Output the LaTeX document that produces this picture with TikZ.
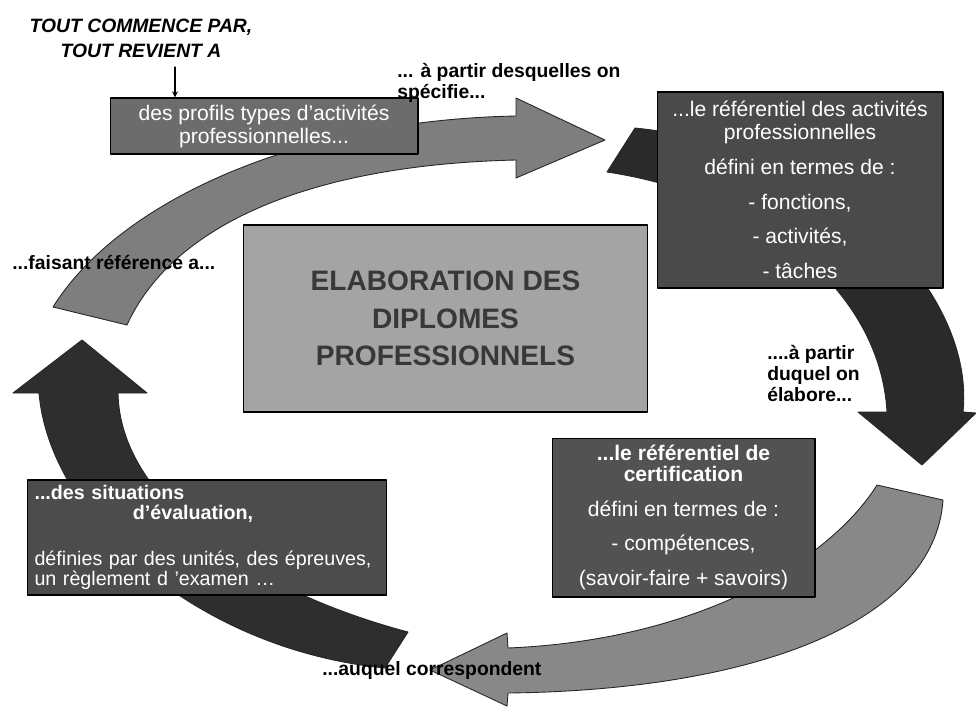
\documentclass[tikz,border=0pt]{standalone}
\usepackage{fontspec}
\setmainfont{Liberation Sans}
\definecolor{arrowA}{HTML}{7E7E7E}
\definecolor{arrowB}{HTML}{2A2A2A}
\definecolor{arrowC}{HTML}{888888}
\definecolor{arrowD}{HTML}{2E2E2E}
\definecolor{boxA}{HTML}{6C6C6C}
\definecolor{boxB}{HTML}{4A4A4A}
\definecolor{boxC}{HTML}{525252}
\definecolor{boxD}{HTML}{4C4C4C}
\definecolor{centre}{HTML}{A4A4A4}
\tikzset{
  box/.style={draw=black,line width=0.6pt,text=white,align=center,inner sep=0pt,
    font=\fontsize{12}{13}\selectfont},
  band/.style={draw=black!85,line width=0.5pt},
  lbl/.style={inner sep=0pt,align=left,font=\bfseries\fontsize{11}{12}\selectfont},
}
\begin{document}
\begin{tikzpicture}[>=stealth,line join=round,line cap=round,x=0.02cm,y=-0.02cm]
	\fill[white] (0,0) rectangle (976,707);
	\useasboundingbox (0,0) rectangle (976,707);
	% the four bent arrows
	\filldraw[band,fill=arrowA] (53,307) .. controls (120,200) and (300,120) .. (516,116) -- (516,98) -- (605,140) -- (516,178) -- (516,160) .. controls (300,165) and (170,230) .. (127,325) -- cycle;
	\filldraw[band,fill=arrowB] (635,128) -- (607,172) .. controls (760,195) and (880,290) .. (887,412) -- (858,412) -- (922,465) -- (976,413) -- (963,412) .. controls (975,300) and (850,150) .. (635,128) -- cycle;
	\filldraw[band,fill=arrowC] (877,485) -- (943,500) .. controls (935,620) and (760,690) .. (508,693) -- (507,706) -- (430,670) -- (507,633) -- (508,648) .. controls (700,640) and (830,560) .. (877,485) -- cycle;
	\filldraw[band,fill=arrowD] (408,632) .. controls (250,590) and (120,500) .. (118,393) -- (147,393) -- (82,340) -- (13,393) -- (39,393) .. controls (50,520) and (200,650) .. (385,668) -- cycle;
	% boxes
	\node[box,fill=boxA,minimum width=6.16cm,minimum height=1.12cm] (profils) at (264,126) {des profils types d'activités\\professionnelles...};
	\node[box,fill=boxB,minimum width=5.72cm,minimum height=3.92cm] (activites) at (800,190) {...le référentiel des activités\\professionnelles\\[6.8pt]défini en termes de :\\[6.8pt]- fonctions,\\[6.8pt]- activités,\\[6.8pt]- tâches};
	\node[box,fill=centre,text=black!78,minimum width=8.1cm,minimum height=3.74cm,
		font=\bfseries\fontsize{16}{21.5}\selectfont] (elaboration) at (445.5,318.5) {ELABORATION DES\\DIPLOMES\\PROFESSIONNELS};
	\node[box,fill=boxC,minimum width=5.26cm,minimum height=3.18cm,font=\fontsize{12}{12}\selectfont] (certif) at (683.5,517.5) {\textbf{...le référentiel de}\\\textbf{certification}\\[7.8pt]défini en termes de :\\[7.8pt]- compétences,\\[7.8pt](savoir-faire + savoirs)};
	\node[box,fill=boxD,align=left,minimum width=7.2cm,minimum height=2.3cm,text width=6.9cm,inner xsep=0.15cm,
		font=\fontsize{11.2}{11.5}\selectfont] (situations) at (207,537.5) {\textbf{...des situations}\\\hspace*{56pt}\textbf{d’évaluation,}\\[14.5pt]définies par des unités, des épreuves,\\un règlement d 'examen …};
	% texts round the cycle
	\node[lbl,align=center,font=\bfseries\itshape\fontsize{11}{14.2}\selectfont] (debut) at (141,38.5) {TOUT COMMENCE PAR,\\TOUT REVIENT A};
	\coordinate (fleche) at (175,67);
	\draw[line width=0.6pt,->] (fleche) -- (fleche |- profils.north);
	\node[lbl,anchor=west] (specifie) at (397,83) {... à partir desquelles on\\spécifie...};
	\node[lbl,anchor=west] (elabore) at (767,373.5) {....à partir\\duquel on\\élabore...};
	\node[lbl,anchor=west] (correspond) at (322,670) {...auquel correspondent};
	\node[lbl,anchor=west] (reference) at (12,262) {...faisant référence a...};
\end{tikzpicture}
\end{document}
